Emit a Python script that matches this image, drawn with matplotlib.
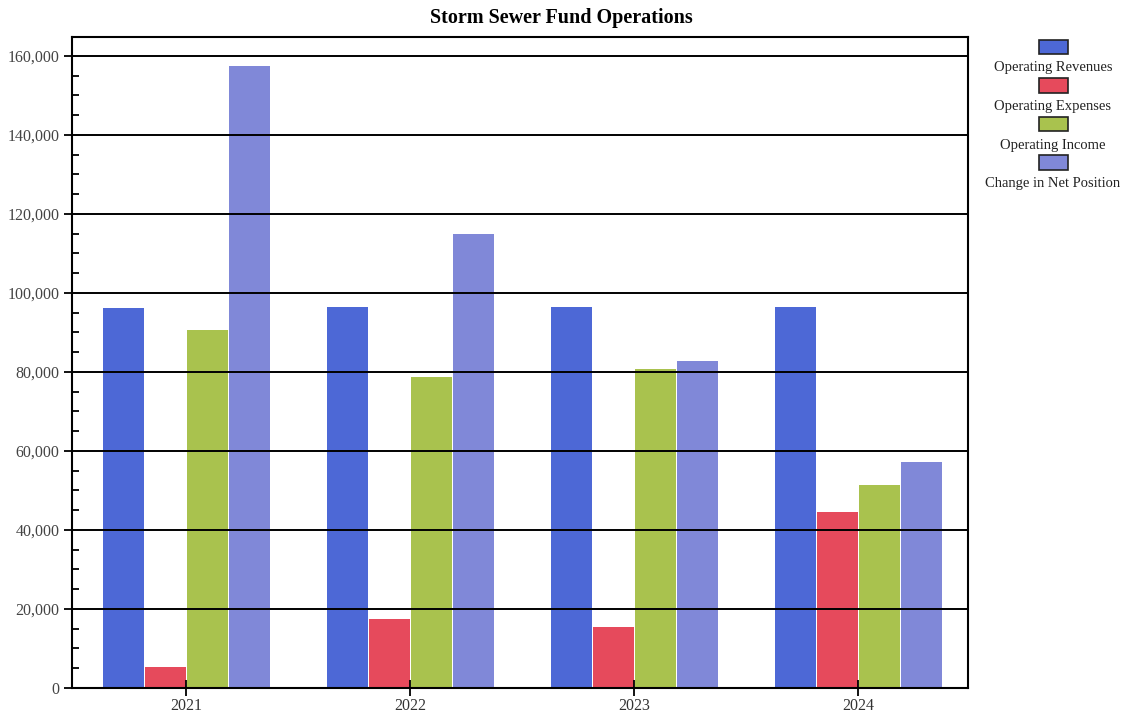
import numpy as np
import matplotlib.pyplot as plt
from matplotlib.patches import Rectangle
from matplotlib.ticker import MultipleLocator, FuncFormatter

years = ["2021", "2022", "2023", "2024"]
series = ["Operating Revenues", "Operating Expenses", "Operating Income", "Change in Net Position"]
revenues = [96200, 96400, 96400, 96400]
expenses = [5300, 17500, 15400, 44600]
income = [90600, 78700, 80800, 51400]
net_change = [157400, 114900, 82800, 57200]
colors = ["#4d68d6", "#e64a5c", "#a9c24e", "#8088d8"]

plt.rcParams['font.family'] = ['Liberation Serif', 'DejaVu Serif']

fig = plt.figure(figsize=(11.28, 7.17), dpi=100)
ax = fig.add_axes([72 / 1128, 1 - 688 / 717, 896 / 1128, 651 / 717])

x = np.arange(len(years))
width = 0.1875
values = [revenues, expenses, income, net_change]
for i, (vals, col) in enumerate(zip(values, colors)):
    ax.bar(x + (i - 1.5) * width, vals, width * 0.97, color=col, zorder=2)

ax.set_xlim(-0.51, 3.49)
ax.set_ylim(0, 164800)
ax.set_xticks(x)
ax.set_xticklabels(years)
ax.yaxis.set_major_locator(MultipleLocator(20000))
ax.yaxis.set_minor_locator(MultipleLocator(5000))
ax.yaxis.set_major_formatter(FuncFormatter(lambda v, p: f"{int(v):,}"))
ax.grid(axis='y', which='major', color='black', linewidth=1.4, zorder=3)
ax.set_axisbelow(False)

ax.tick_params(axis='y', which='major', direction='out', length=6, width=1.3,
               labelsize=11.5, labelcolor='#444444', pad=3)
ax.tick_params(axis='y', which='minor', direction='in', length=5, width=1.3)
ax.tick_params(axis='x', direction='inout', length=12, width=1.3,
               labelsize=11.5, labelcolor='#333333', pad=1)
for s in ax.spines.values():
    s.set_linewidth(1.5)
    s.set_zorder(4)

fig.text(561 / 1128, 1 - 18 / 717, "Storm Sewer Fund Operations",
         ha='center', va='center', fontsize=14.5, fontweight='bold')

# stacked legend: swatch above each label
for i, (name, col) in enumerate(zip(series, colors)):
    top = 40 + i * 38.5
    fig.patches.append(Rectangle((1039 / 1128, 1 - (top + 14) / 717), 29 / 1128, 14 / 717,
                                 transform=fig.transFigure, facecolor=col,
                                 edgecolor='#222222', linewidth=1.2))
    fig.text(1053 / 1128, 1 - (top + 28) / 717, name, ha='center', va='center',
             fontsize=10.5, color='#222222')

fig.savefig("out.png", dpi=100)
